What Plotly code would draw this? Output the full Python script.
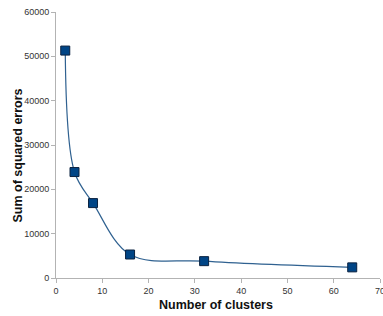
import plotly.graph_objects as go

clusters = [2, 4, 8, 16, 32, 64]
sse = [51300, 23900, 16900, 5300, 3800, 2400]

x_ticks = [0, 10, 20, 30, 40, 50, 60, 70]
y_ticks = [0, 10000, 20000, 30000, 40000, 50000, 60000]

x_title = "Number of clusters"
y_title = "Sum of squared errors"

fig = go.Figure()
fig.add_trace(go.Scatter(
    x=clusters, y=sse, mode="lines+markers",
    line=dict(shape="spline", smoothing=1.0, color="#2f6190", width=1.2),
    marker=dict(symbol="square", size=9, color="#004586",
                line=dict(color="#0a2240", width=1)),
    showlegend=False,
))

axis_common = dict(
    showgrid=False, zeroline=False, showline=True, linecolor="#b3b3b3",
    linewidth=1, ticks="outside", ticklen=4, tickcolor="#b3b3b3",
    automargin=False, ticklabeloverflow="allow",
    tickfont=dict(family="Liberation Sans, Arial", size=9, color="#333333"),
)

title_font = dict(family="Liberation Sans, Arial", size=12.5, color="#111111")

fig.update_layout(
    width=383, height=316,
    margin=dict(l=56, r=3, t=12, b=38),
    paper_bgcolor="white", plot_bgcolor="white",
    xaxis=dict(range=[0, 70], tickvals=x_ticks, ticktext=[str(v) for v in x_ticks], **axis_common),
    yaxis=dict(range=[0, 60000], tickvals=y_ticks, ticktext=[str(v) for v in y_ticks], **axis_common),
    annotations=[
        dict(text="<b>" + x_title + "</b>", xref="paper", yref="paper",
             x=0.494, y=-0.103, xanchor="center", yanchor="middle",
             showarrow=False, font=title_font),
        dict(text="<b>" + y_title + "</b>", xref="paper", yref="paper",
             x=-0.116, y=0.462, xanchor="center", yanchor="middle", textangle=-90,
             showarrow=False, font=title_font),
    ],
)

fig.write_html("out.html", config={"displayModeBar": False},
               post_script="document.body.style.margin='0';")
